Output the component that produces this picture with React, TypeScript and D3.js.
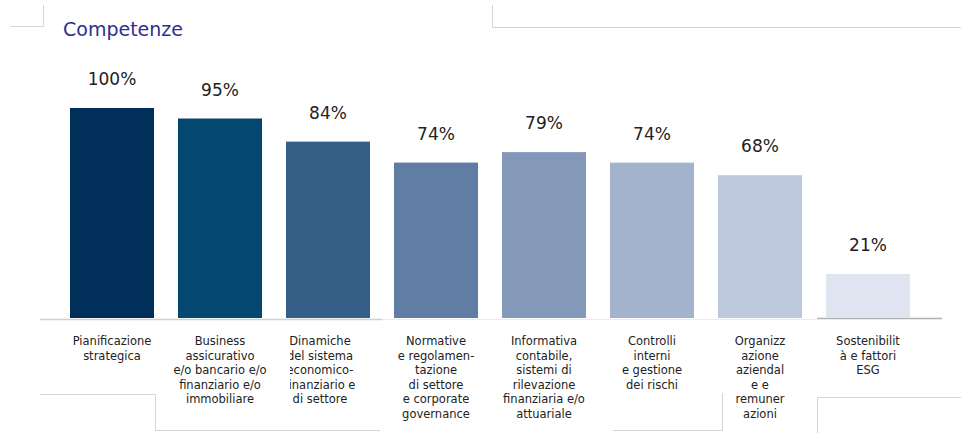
import React from "react";
import * as d3 from "d3";

const categories: string[][] = [
  ["Pianificazione", "strategica"],
  ["Business", "assicurativo", "e/o bancario e/o", "finanziario e/o", "immobiliare"],
  ["Dinamiche", "del sistema", "economico-", "finanziario e", "di settore"],
  ["Normative", "e regolamen-", "tazione", "di settore", "e corporate", "governance"],
  ["Informativa", "contabile,", "sistemi di", "rilevazione", "finanziaria e/o", "attuariale"],
  ["Controlli", "interni", "e gestione", "dei rischi"],
  ["Organizz", "azione", "aziendal", "e e", "remuner", "azioni"],
  ["Sostenibilit", "à e fattori", "ESG"],
];
const values: number[] = [100, 95, 84, 74, 79, 74, 68, 21];
const valueLabels: string[] = ["100%", "95%", "84%", "74%", "79%", "74%", "68%", "21%"];
const colors: string[] = ["#00305a", "#04486f", "#365f87", "#607ea3", "#8499ba", "#a3b3cd", "#bfc9dd", "#dfe4f0"];
const title = "Competenze";

const W = 961;
const H = 433;
const baseY = 318;
const topY = 108;

export default function App() {
  const x = d3
    .scaleBand<number>()
    .domain(values.map((_, i) => i))
    .range([70, 910])
    .paddingInner(24 / 108)
    .paddingOuter(0);
  const y = d3.scaleLinear().domain([0, 100]).range([baseY, topY]);
  const bw = x.bandwidth();
  const font = "'DejaVu Sans', Verdana, sans-serif";

  return (
    <svg
      width={W}
      height={H}
      viewBox={`0 0 ${W} ${H}`}
      style={{ position: "absolute", left: 0, top: 0, background: "#fff" }}
    >
      <defs>
        <clipPath id="clip3">
          <rect x={290} y={320} width={100} height={113} />
        </clipPath>
      </defs>
      {/* decorative frame fragments */}
      <g stroke="#d4d4d4" strokeWidth={1} fill="none">
        <path d="M10.5,26.5 H43.5 V5" />
        <path d="M492.5,5 V27.5 H961" />
        <path d="M40,394.5 H155.5 V430.5 H380" />
        <path d="M613,430.5 H722.5 V393" />
        <path d="M817.5,433 V397.5 H961" />
      </g>
      <text x={63} y={36} fontFamily={font} fontSize={19} fill="#2e3090">
        {title}
      </text>
      {/* baseline */}
      <line x1={40} x2={382} y1={319.5} y2={319.5} stroke="#cfcfcf" strokeWidth={1.5} />
      <line x1={382} x2={817} y1={319.5} y2={319.5} stroke="#ececec" strokeWidth={1} />
      <line x1={817} x2={942} y1={318.5} y2={318.5} stroke="#b0b0b0" strokeWidth={1.5} />
      {values.map((v, i) => (
        <rect key={`b${i}`} x={x(i)} y={y(v)} width={bw} height={baseY - y(v)} fill={colors[i]} />
      ))}
      {values.map((v, i) => (
        <text
          key={`v${i}`}
          x={(x(i) as number) + bw / 2}
          y={y(v) - 23}
          textAnchor="middle"
          fontFamily={font}
          fontSize={17}
          fill="#222"
        >
          {valueLabels[i]}
        </text>
      ))}
      {categories.map((lines, i) => {
        const cx = i === 2 ? 320 : (x(i) as number) + bw / 2;
        return (
          <text
            key={`c${i}`}
            x={cx}
            y={345}
            textAnchor="middle"
            fontFamily={font}
            fontSize={11.5}
            fill="#222"
            clipPath={i === 2 ? "url(#clip3)" : undefined}
          >
            {lines.map((l, j) => (
              <tspan key={j} x={cx} dy={j === 0 ? 0 : 14.5}>
                {l}
              </tspan>
            ))}
          </text>
        );
      })}
    </svg>
  );
}
